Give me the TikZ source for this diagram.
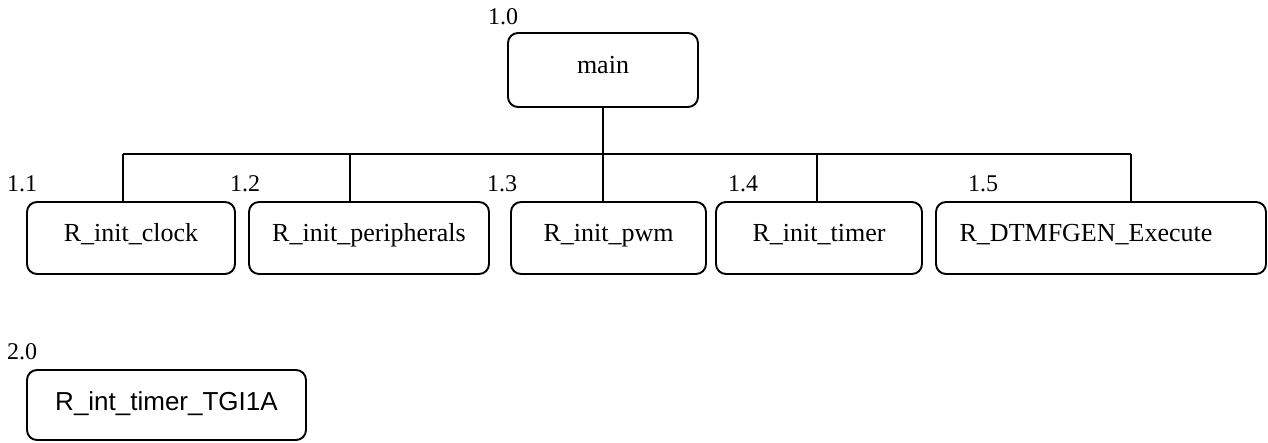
\documentclass[tikz,border=0pt]{standalone}
\usepackage{fontspec}
\setmainfont{Liberation Serif}
\newfontfamily\arialf{Liberation Sans}
\begin{document}
\begin{tikzpicture}[x=1pt,y=-1pt,
  box/.style={draw, line width=1.9pt, rounded corners=10pt, inner sep=0pt,
    font=\fontsize{26}{30}\selectfont, text height=18pt, text depth=11pt},
  num/.style={font=\fontsize{24}{28}\selectfont, inner sep=0pt},
  conn/.style={line width=1.9pt}]
\useasboundingbox (0,0) rectangle (1268,442);
\node[box, minimum width=190pt, minimum height=74pt] (main) at (603,70) {main};
\node[box, minimum width=208pt, minimum height=72pt] (b1) at (131,238) {R\_init\_clock};
\node[box, minimum width=240pt, minimum height=72pt] (b2) at (369,238) {R\_init\_peripherals};
\node[box, minimum width=195pt, minimum height=72pt] (b3) at (608.5,238) {R\_init\_pwm};
\node[box, minimum width=206pt, minimum height=72pt] (b4) at (819,238) {R\_init\_timer};
\node[box, minimum width=330pt, minimum height=72pt] (b5) at (1101,238) {R\_DTMFGEN\_Execute\hspace*{30pt}};
\node[box, minimum width=279pt, minimum height=70pt, font=\arialf\fontsize{26}{30}\selectfont, text height=18pt, text depth=8pt] (b6) at (166.5,405) {R\_int\_timer\_TGI1A};
\node[num] (l0) at (503,17) {1.0};
\node[num] (l1) at (22,184) {1.1};
\node[num] (l2) at (245,184) {1.2};
\node[num] (l3) at (502,184) {1.3};
\node[num] (l4) at (743,184) {1.4};
\node[num] (l5) at (983,184) {1.5};
\node[num] (l6) at (22,352) {2.0};
\coordinate (d1) at (123,154);
\coordinate (d2) at (350,154);
\coordinate (d3) at (603,154);
\coordinate (d4) at (817,154);
\coordinate (d5) at (1131,154);
\draw[conn] (main.south) -- (d3);
\draw[conn] (d1) -- (d5);
\draw[conn] (d1) -- (d1 |- b1.north);
\draw[conn] (d2) -- (d2 |- b2.north);
\draw[conn] (d3) -- (d3 |- b3.north);
\draw[conn] (d4) -- (d4 |- b4.north);
\draw[conn] (d5) -- (d5 |- b5.north);
\end{tikzpicture}
\end{document}
